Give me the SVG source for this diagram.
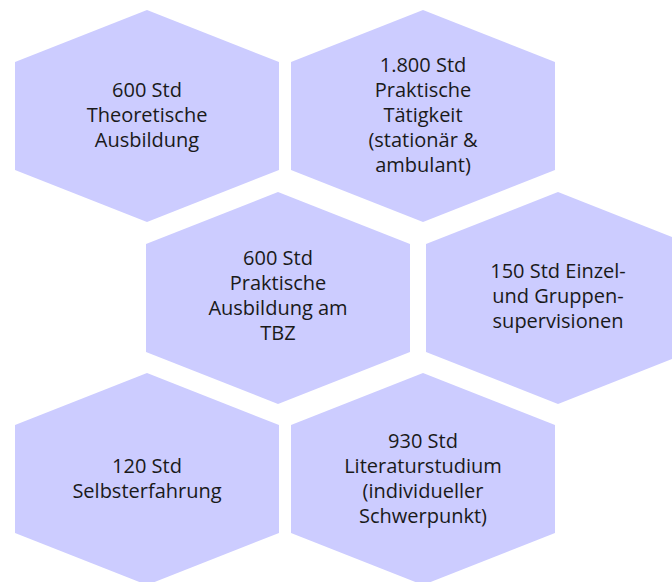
<svg xmlns="http://www.w3.org/2000/svg" xmlns:xlink="http://www.w3.org/1999/xlink" width="672" height="582" viewBox="0 0 672 582">
<style>
.hex{fill:#ccccff;}
.t{font-family:"Open Sans","Noto Sans",sans-serif;font-size:20px;fill:#1a1a1a;text-anchor:middle;}
</style>
<defs>
<polygon id="hexshape" points="0,-106 132,-54 132,54 0,106 -132,54 -132,-54"/>
</defs>
<rect width="672" height="582" fill="#ffffff"/>
<g id="connectors"></g>
<g id="n1" transform="translate(147,116)">
<use xlink:href="#hexshape" class="hex"/>
<text class="t"><tspan x="0" y="-19">600 Std</tspan><tspan x="0" y="6">Theoretische</tspan><tspan x="0" y="31">Ausbildung</tspan></text>
</g>
<g id="n2" transform="translate(423,116)">
<use xlink:href="#hexshape" class="hex"/>
<text class="t"><tspan x="0" y="-44">1.800 Std</tspan><tspan x="0" y="-19">Praktische</tspan><tspan x="0" y="6">Tätigkeit</tspan><tspan x="0" y="31">(stationär &amp;</tspan><tspan x="0" y="56">ambulant)</tspan></text>
</g>
<g id="n3" transform="translate(278,298)">
<use xlink:href="#hexshape" class="hex"/>
<text class="t"><tspan x="0" y="-33">600 Std</tspan><tspan x="0" y="-8">Praktische</tspan><tspan x="0" y="17">Ausbildung am</tspan><tspan x="0" y="42">TBZ</tspan></text>
</g>
<g id="n4" transform="translate(558,298)">
<use xlink:href="#hexshape" class="hex"/>
<text class="t"><tspan x="0" y="-20">150 Std Einzel-</tspan><tspan x="0" y="5">und Gruppen-</tspan><tspan x="0" y="30">supervisionen</tspan></text>
</g>
<g id="n5" transform="translate(147,479)">
<use xlink:href="#hexshape" class="hex"/>
<text class="t"><tspan x="0" y="-6">120 Std</tspan><tspan x="0" y="19">Selbsterfahrung</tspan></text>
</g>
<g id="n6" transform="translate(423,479)">
<use xlink:href="#hexshape" class="hex"/>
<text class="t"><tspan x="0" y="-31">930 Std</tspan><tspan x="0" y="-6">Literaturstudium</tspan><tspan x="0" y="19">(individueller</tspan><tspan x="0" y="44">Schwerpunkt)</tspan></text>
</g>
</svg>
